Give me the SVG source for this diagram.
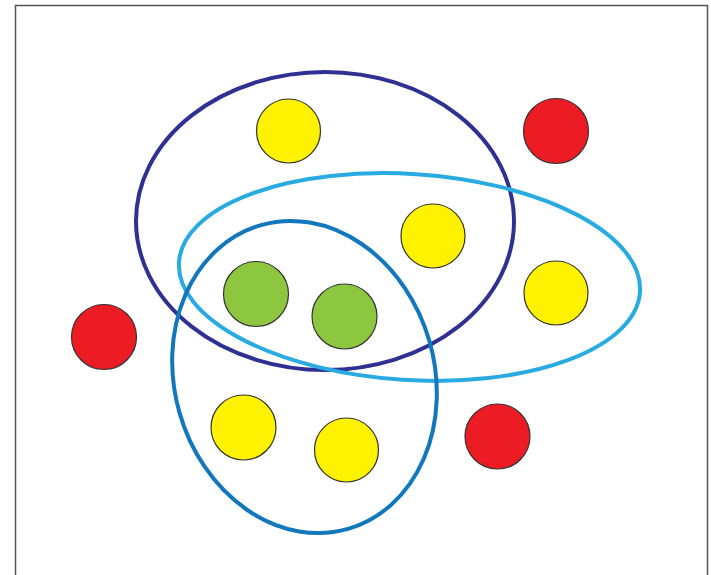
<svg xmlns="http://www.w3.org/2000/svg" width="711" height="575" viewBox="0 0 711 575">
<style>
.frame{fill:none;stroke:#555;stroke-width:1.5}
.set{fill:none;stroke-width:4}
.dot{stroke:#333;stroke-width:1.2}
.y{fill:#fff200}
.r{fill:#ed1c24}
.g{fill:#8dc63f}
</style>
<rect width="711" height="575" fill="#fff"/>
<rect class="frame" x="15.5" y="5.5" width="692" height="580"/>
<g id="connectors">
<ellipse class="set" cx="325" cy="221" rx="189" ry="149" stroke="#2e3192"/>
<ellipse class="set" cx="409.5" cy="277" rx="231" ry="103" stroke="#29abe2" transform="rotate(3.7 409.5 277)"/>
<ellipse class="set" cx="304.5" cy="377" rx="130" ry="158" stroke="#1277bd" transform="rotate(-16 304.5 377)"/>
</g>
<g id="y1"><circle class="dot y" cx="288.5" cy="131" r="32"/></g>
<g id="r1"><circle class="dot r" cx="556" cy="131" r="32.5"/></g>
<g id="y2"><circle class="dot y" cx="433" cy="236" r="32"/></g>
<g id="g1"><circle class="dot g" cx="256" cy="294" r="32.5"/></g>
<g id="g2"><circle class="dot g" cx="344.5" cy="316.5" r="32.5"/></g>
<g id="y3"><circle class="dot y" cx="556" cy="293" r="32"/></g>
<g id="r2"><circle class="dot r" cx="104" cy="337" r="32.5"/></g>
<g id="y4"><circle class="dot y" cx="243.5" cy="427.5" r="32.5"/></g>
<g id="y5"><circle class="dot y" cx="346.5" cy="450" r="32"/></g>
<g id="r3"><circle class="dot r" cx="497.5" cy="436.5" r="32.5"/></g>
</svg>
